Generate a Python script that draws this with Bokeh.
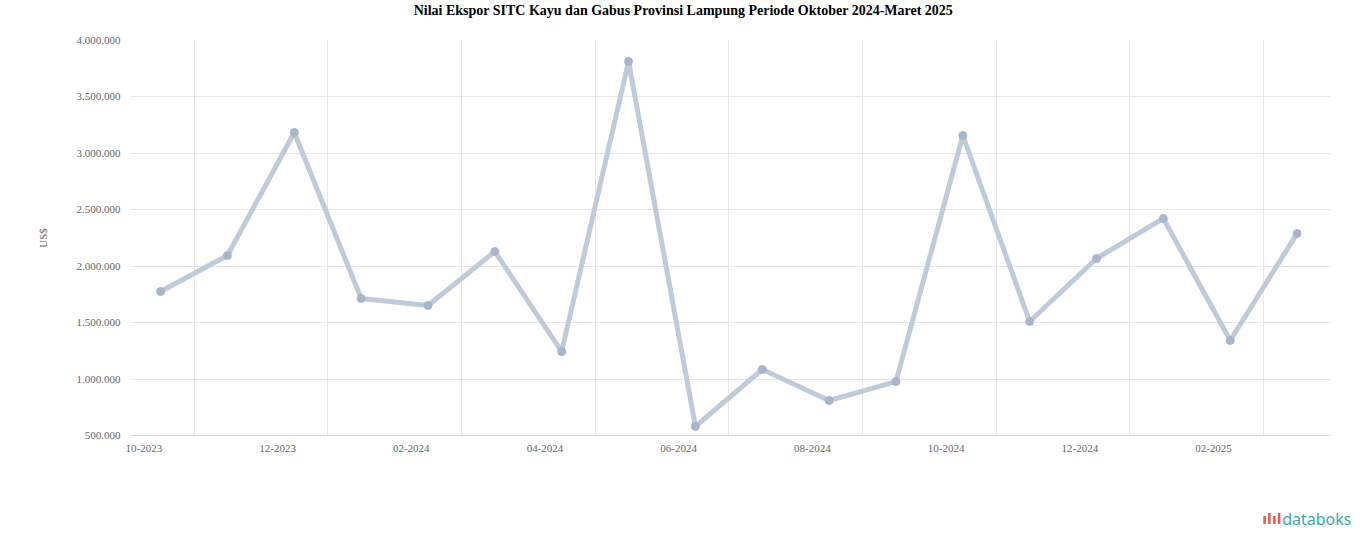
from bokeh.plotting import figure
from bokeh.models import FixedTicker, Range1d, ColumnDataSource, Label
from bokeh.layouts import column
from bokeh.embed import file_html
from bokeh.resources import INLINE

title_text = "Nilai Ekspor SITC Kayu dan Gabus Provinsi Lampung Periode Oktober 2024-Maret 2025"
y_title = "US$"
brand = "databoks"
brand_icon = "ılıl"

months = ["10-2023", "11-2023", "12-2023", "01-2024", "02-2024", "03-2024",
          "04-2024", "05-2024", "06-2024", "07-2024", "08-2024", "09-2024",
          "10-2024", "11-2024", "12-2024", "01-2025", "02-2025", "03-2025"]
values = [1776000, 2095000, 3185000, 1714000, 1652000, 2130000,
          1244000, 3814000, 580000, 1085000, 810000, 978000,
          3158000, 1510000, 2068000, 2423000, 1342000, 2290000]

y_ticks = [500000, 1000000, 1500000, 2000000, 2500000, 3000000, 3500000, 4000000]
y_tick_labels = ["500.000", "1.000.000", "1.500.000", "2.000.000",
                 "2.500.000", "3.000.000", "3.500.000", "4.000.000"]

idx = list(range(len(months)))
src = ColumnDataSource(dict(x=idx, y=values, m=months))

FULL_W = 1358


def strip(h):
    f = figure(frame_width=FULL_W, frame_height=h, output_backend="svg",
               toolbar_location=None, frame_align=False,
               x_range=Range1d(0, FULL_W), y_range=Range1d(0, h),
               x_axis_type=None, y_axis_type=None, outline_line_color=None,
               min_border=0, min_border_left=0, min_border_right=0,
               min_border_top=0, min_border_bottom=0)
    f.grid.visible = False
    return f


# title strip
title_h = 20
tf = strip(title_h)
tf.add_layout(Label(x=683, y=title_h / 2, text=title_text,
                    text_font="Liberation Serif", text_font_style="bold",
                    text_font_size="14px", text_color="#000000",
                    text_align="center", text_baseline="middle"))

p = figure(frame_width=1200, frame_height=395, output_backend="svg",
           toolbar_location=None, frame_align=False,
           x_range=Range1d(-0.45, 17.5), y_range=Range1d(500000, 4000000),
           min_border_left=130, min_border_right=28, min_border_top=20,
           min_border_bottom=60, outline_line_color=None,
           background_fill_color="white", border_fill_color="white")

# grid
p.ygrid.ticker = FixedTicker(ticks=y_ticks)
p.ygrid.grid_line_color = "#e6e6e6"
p.xgrid.ticker = FixedTicker(ticks=[i + 0.5 for i in idx[::2]])
p.xgrid.grid_line_color = "#e6e6e6"

# y axis
p.yaxis.ticker = FixedTicker(ticks=y_ticks)
p.yaxis.major_label_overrides = {t: l for t, l in zip(y_ticks, y_tick_labels)}
p.yaxis.axis_line_color = None
p.yaxis.major_tick_line_color = None
p.yaxis.minor_tick_line_color = None
p.yaxis.major_label_standoff = 4
p.yaxis.major_label_text_font = "Liberation Serif"
p.yaxis.major_label_text_font_size = "11px"
p.yaxis.major_label_text_color = "#666666"
p.yaxis.axis_label = y_title
p.yaxis.axis_label_text_font = "Liberation Serif"
p.yaxis.axis_label_text_font_style = "normal"
p.yaxis.axis_label_text_font_size = "11px"
p.yaxis.axis_label_text_color = "#666666"
p.yaxis.axis_label_standoff = 25

# x axis
xt = [i - 0.25 for i in idx[::2]]
p.xaxis.ticker = FixedTicker(ticks=xt)
p.xaxis.major_label_overrides = {t: months[i] for t, i in zip(xt, idx[::2])}
p.xaxis.axis_line_color = "#ccd6eb"
p.xaxis.major_tick_line_color = None
p.xaxis.minor_tick_line_color = None
p.xaxis.major_label_standoff = 3
p.xaxis.major_label_text_font = "Liberation Serif"
p.xaxis.major_label_text_font_size = "11px"
p.xaxis.major_label_text_color = "#666666"

# series
p.line("x", "y", source=src, line_color="#bfcbdb", line_width=5, line_join="round")
p.scatter("x", "y", source=src, size=8, fill_color="#a6b6cb", line_color="#a6b6cb")

# logo strip
logo_h = 50
lf = strip(logo_h)
lf.add_layout(Label(x=1281, y=logo_h - 23, text=brand_icon,
                    text_font="DejaVu Sans", text_font_style="bold",
                    text_font_size="14px", text_color="#ea5a47",
                    text_align="right", text_baseline="middle"))
lf.add_layout(Label(x=1351, y=logo_h - 23, text=brand,
                    text_font="Noto Sans", text_font_size="16px",
                    text_color="#3ca9a4",
                    text_align="right", text_baseline="middle"))

layout = column(tf, p, lf, spacing=0)
open("out.html", "w").write(file_html(layout, INLINE))
